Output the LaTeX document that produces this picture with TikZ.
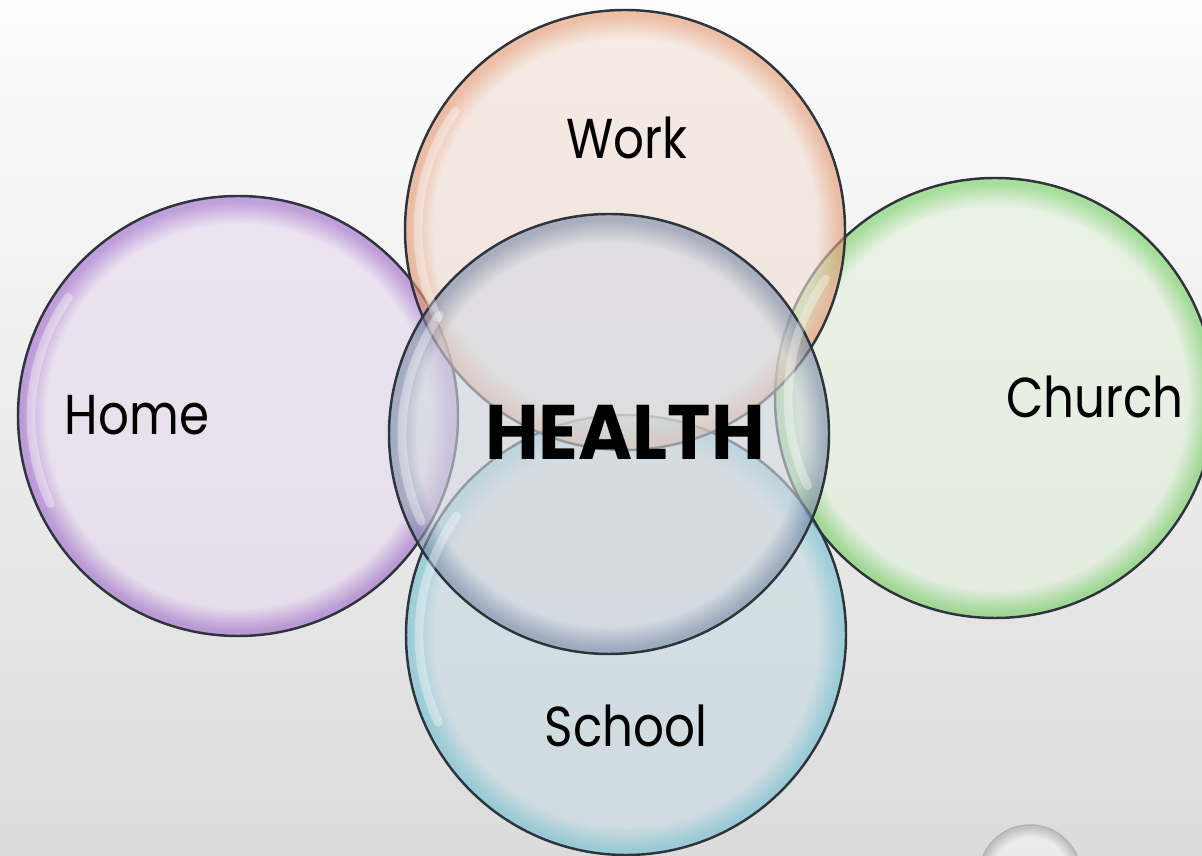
\documentclass[tikz,border=0pt]{standalone}
\usepackage{fontspec}
\setmainfont{Poppins}[FakeStretch=0.86]
\newfontfamily\headfont{Poppins}[FakeStretch=0.95]

% bubble colours
\definecolor{workin}{HTML}{F2E0D6}
\definecolor{workrim}{HTML}{E59A72}
\definecolor{homein}{HTML}{E8DAEF}
\definecolor{homerim}{HTML}{A06CCB}
\definecolor{churchin}{HTML}{E2F1DC}
\definecolor{churchrim}{HTML}{78D066}
\definecolor{schoolin}{HTML}{C8DBE3}
\definecolor{schoolrim}{HTML}{72C0D2}
\definecolor{healthin}{HTML}{D4D9E0}
\definecolor{healthrim}{HTML}{7C8CA8}
\definecolor{dropin}{HTML}{F6F6F6}
\definecolor{droprim}{HTML}{B4B4B4}
\definecolor{rimline}{HTML}{2E343C}

% glassy rim shadings (circle edge sits at 25bp)
\pgfdeclareradialshading{bubwork}{\pgfpoint{0bp}{0bp}}{color(0bp)=(workin); color(21.8bp)=(workin); color(24.4bp)=(workrim); color(50bp)=(workrim)}
\pgfdeclareradialshading{bubhome}{\pgfpoint{0bp}{0bp}}{color(0bp)=(homein); color(21.8bp)=(homein); color(24.4bp)=(homerim); color(50bp)=(homerim)}
\pgfdeclareradialshading{bubchurch}{\pgfpoint{0bp}{0bp}}{color(0bp)=(churchin); color(21.8bp)=(churchin); color(24.4bp)=(churchrim); color(50bp)=(churchrim)}
\pgfdeclareradialshading{bubschool}{\pgfpoint{0bp}{0bp}}{color(0bp)=(schoolin); color(21.8bp)=(schoolin); color(24.4bp)=(schoolrim); color(50bp)=(schoolrim)}
\pgfdeclareradialshading{bubhealth}{\pgfpoint{0bp}{0bp}}{color(0bp)=(healthin); color(21.8bp)=(healthin); color(24.4bp)=(healthrim); color(50bp)=(healthrim)}
\pgfdeclareradialshading{bubdrop}{\pgfpoint{0bp}{0bp}}{color(0bp)=(dropin); color(19bp)=(dropin); color(24bp)=(droprim); color(50bp)=(droprim)}

\tikzset{
  bubble/.style={circle, draw=rimline, line width=0.7pt, minimum size=4.4cm,
    inner sep=0pt, outer sep=0pt, fill opacity=0.62},
  hilite/.style={white, line width=2.5pt, opacity=0.35, line cap=round},
  lbl/.style={font=\fontsize{16}{18}\selectfont, text=black},
}

\begin{document}
\begin{tikzpicture}
  % background
  \useasboundingbox (0,0) rectangle (12.02,8.55);
  \clip (0,0) rectangle (12.02,8.55);
  \shade[top color=gray!2, bottom color=gray!28] (0,0) rectangle (12.02,8.55);
  % bubbles
  \node[bubble, shading=bubhome] (home) at (2.38,4.39) {};
  \node[bubble, shading=bubchurch] (church) at (9.95,4.57) {};
  \node[bubble, shading=bubschool] (school) at (6.26,2.20) {};
  \node[bubble, shading=bubwork] (work) at (6.25,6.25) {};
  \node[bubble, shading=bubhealth] (health) at (6.09,4.21) {};
  \node[bubble, shading=bubdrop, draw=gray!60, line width=0.4pt, minimum size=1.02cm] (drop) at (10.30,-0.21) {};
  % highlights
  \foreach \b in {home,church,school,work,health}
    \draw[hilite] ([shift={(145:2.07)}]\b.center) arc (145:205:2.07);
  % labels
  \node[lbl] (worklbl) at (6.27,7.17) {Work};
  \node[lbl] (homelbl) at (1.37,4.40) {Home};
  \node[lbl] (churchlbl) at (10.95,4.58) {Church};
  \node[lbl] (schoollbl) at (6.26,1.29) {School};
  \node[font=\headfont\fontsize{22}{24}\selectfont\bfseries] (healthlbl) at (6.25,4.23) {HEALTH};
\end{tikzpicture}
\end{document}
